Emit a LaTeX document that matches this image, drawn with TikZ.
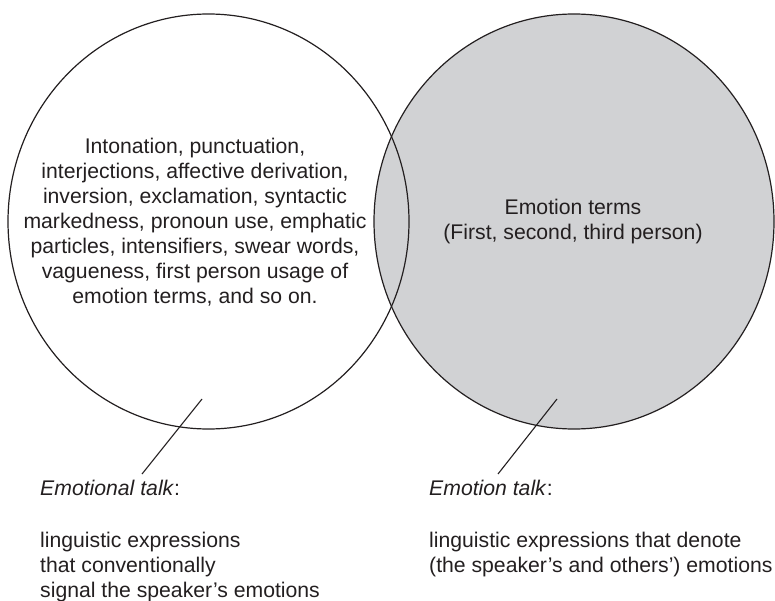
\documentclass[tikz,border=0pt]{standalone}
\usepackage{fontspec}
\setmainfont{Liberation Sans}
\usetikzlibrary{positioning}

\definecolor{ink}{HTML}{231F20}
\definecolor{venngray}{HTML}{D1D2D4}

\begin{document}
\begin{tikzpicture}[x=1pt, y=-1pt,
  ring/.style={draw=ink, line width=1.2pt},
  leader/.style={draw=ink, line width=1.1pt},
  words/.style={text=ink, inner sep=0pt, font=\fontsize{21.2}{25}\selectfont},
]
\useasboundingbox (0,0) rectangle (775,601);

% emotion talk: grey circle on the right
\fill[venngray] (574,221.5) ellipse [x radius=200pt, y radius=207.5pt];

% both outlines on top of the grey
\draw[ring] (208.5,221.5) ellipse [x radius=200.5pt, y radius=207.5pt];
\draw[ring] (574,221.5) ellipse [x radius=200pt, y radius=207.5pt];

% text inside the circles
\node[words, align=center] (markers) at (195,222) {Intonation, punctuation,\\interjections, affective derivation,\\inversion, exclamation, syntactic\\markedness, pronoun use, emphatic\\particles, intensifiers, swear words,\\vagueness, first person usage of\\emotion terms, and so on.};
\node[words, align=center] (terms) at (573,222) {Emotion terms\\(First, second, third person)};

% captions below
\node[words, anchor=base west] (emotional) at (40,495) {\textit{Emotional talk}:};
\node[words, align=left, below=36.5pt of emotional.south west, anchor=north west] (emotionaldef) {linguistic expressions\\that conventionally\\signal the speaker’s emotions};

\node[words, anchor=base west] (emotion) at (429,495) {\textit{Emotion talk}:};
\node[words, align=left, below=36.5pt of emotion.south west, anchor=north west] (emotiondef) {linguistic expressions that denote\\(the speaker’s and others’) emotions};

% leader lines from circles to captions
\coordinate (emotionalpin) at (202,399);
\coordinate (emotionalend) at (142,474);
\coordinate (emotionpin) at (557,399);
\coordinate (emotionend) at (498,474);
\draw[leader] (emotionalpin) -- (emotionalend);
\draw[leader] (emotionpin) -- (emotionend);

\end{tikzpicture}
\end{document}
